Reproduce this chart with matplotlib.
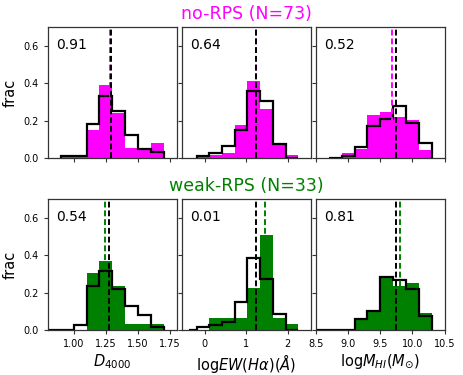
import numpy as np
import matplotlib
matplotlib.use("Agg")
import matplotlib.pyplot as plt

# ---------------- data ----------------
d4000_edges_top = [0.9, 1.0, 1.1, 1.2, 1.3, 1.4, 1.5, 1.6, 1.7]
d4000_edges_bot = [0.8, 0.9, 1.0, 1.1, 1.2, 1.3, 1.4, 1.5, 1.6, 1.7]
ew_edges_top = [-0.19, 0.11, 0.42, 0.73, 1.03, 1.34, 1.65, 1.95, 2.26]
ew_edges_bot = [-0.37, -0.19, 0.11, 0.42, 0.73, 1.03, 1.34, 1.65, 1.95, 2.26]
hi_edges_top = [8.7, 8.9, 9.1, 9.3, 9.5, 9.7, 9.9, 10.1, 10.3]
hi_edges_bot = [8.5, 8.7, 8.9, 9.1, 9.3, 9.5, 9.7, 9.9, 10.1, 10.3]

# no-RPS (magenta) vs comparison (black)
norps_d4000 = [0.014, 0.014, 0.151, 0.393, 0.239, 0.057, 0.057, 0.084]
ref1_d4000 = [0.014, 0.014, 0.182, 0.330, 0.254, 0.125, 0.050, 0.032]
norps_ew = [0.014, 0.018, 0.030, 0.180, 0.413, 0.265, 0.075, 0.016]
ref1_ew = [0.0125, 0.030, 0.066, 0.152, 0.357, 0.307, 0.075, 0.0]
norps_hi = [0.0, 0.029, 0.050, 0.232, 0.245, 0.220, 0.205, 0.043]
ref1_hi = [0.004, 0.0125, 0.058, 0.170, 0.209, 0.277, 0.188, 0.082]

# weak-RPS (green) vs comparison (black)
weak_d4000 = [0.0, 0.0, 0.0, 0.303, 0.369, 0.236, 0.034, 0.034, 0.034]
ref2_d4000 = [0.0, 0.0, 0.027, 0.236, 0.316, 0.218, 0.129, 0.080, 0.018]
weak_ew = [0.0, 0.0, 0.064, 0.064, 0.064, 0.223, 0.507, 0.066, 0.034]
ref2_ew = [0.0, 0.018, 0.027, 0.045, 0.150, 0.388, 0.274, 0.089, 0.0]
weak_hi = [0.0, 0.0, 0.0, 0.061, 0.096, 0.284, 0.236, 0.254, 0.093]
ref2_hi = [0.0, 0.0, 0.0, 0.0625, 0.102, 0.282, 0.268, 0.220, 0.075]

# medians (dashed lines)
norps_med = [1.285, 1.23, 9.69]
ref1_med = [1.293, 1.232, 9.74]
weak_med = [1.243, 1.45, 9.80]
ref2_med = [1.274, 1.24, 9.75]

# KS p-values
pvals_top = ["0.91", "0.64", "0.52"]
pvals_bot = ["0.54", "0.01", "0.81"]

xlabels = [r"$D_{4000}$", r"log$EW(H\alpha)(\AA)$", r"log$M_{HI}(M_{\odot})$"]
xlims = [(0.8, 1.8), (-0.55, 2.55), (8.5, 10.5)]
xticks = [[1.0, 1.25, 1.5, 1.75], [0, 1, 2], [8.5, 9.0, 9.5, 10.0, 10.5]]
xticklabels = [["1.00", "1.25", "1.50", "1.75"], ["0", "1", "2"],
               ["8.5", "9.0", "9.5", "10.0", "10.5"]]
yticks = [0.0, 0.2, 0.4, 0.6]

title_top = "no-RPS (N=73)"
title_bot = "weak-RPS (N=33)"

# ---------------- figure ----------------
W, H = 463, 375
fig = plt.figure(figsize=(W / 100, H / 100), dpi=100)

lefts = [48, 182, 316]
width = 128.5
row_tops = [27, 199]
height = 131.3

top_sets = [
    (d4000_edges_top, norps_d4000, ref1_d4000),
    (ew_edges_top, norps_ew, ref1_ew),
    (hi_edges_top, norps_hi, ref1_hi),
]
bot_sets = [
    (d4000_edges_bot, weak_d4000, ref2_d4000),
    (ew_edges_bot, weak_ew, ref2_ew),
    (hi_edges_bot, weak_hi, ref2_hi),
]

rows = [
    (top_sets, "#ff00ff", norps_med, ref1_med, pvals_top),
    (bot_sets, "green", weak_med, ref2_med, pvals_bot),
]

for r, (sets, col, med_c, med_k, pv) in enumerate(rows):
    for c in range(3):
        x0 = lefts[c] / W
        y0 = 1 - (row_tops[r] + height) / H
        ax = fig.add_axes([x0, y0, width / W, height / H])
        edges, filled, outline = sets[c]
        ax.stairs(filled, edges, fill=True, color=col, lw=0)
        ax.stairs(outline, edges, fill=False, color="black", lw=1.6, baseline=0)
        ax.axvline(med_c[c], color=col, ls="--", lw=1.4, dashes=(3, 1.5))
        ax.axvline(med_k[c], color="black", ls="--", lw=1.4, dashes=(3, 1.5))
        ax.set_xlim(*xlims[c])
        ax.set_ylim(0, 0.7)
        ax.set_xticks(xticks[c])
        ax.set_yticks(yticks)
        ax.tick_params(labelsize=7, length=3, width=0.8, color="#333333")
        for s in ax.spines.values():
            s.set_color("#333333")
            s.set_linewidth(0.9)
        if r == 1:
            ax.set_xticklabels(xticklabels[c])
            ax.set_xlabel(xlabels[c], fontsize=10.5, labelpad=2)
        else:
            ax.set_xticklabels([])
        if c == 0:
            ax.set_ylabel("frac", fontsize=10.5, labelpad=4)
        else:
            ax.set_yticklabels([])
        ax.text(0.06, 0.86, pv[c], transform=ax.transAxes, fontsize=10,
                ha="left", va="center")

fig.text(246 / W, 1 - 14 / H, title_top, color="#ff00ff", fontsize=12.5,
         ha="center", va="center")
fig.text(246 / W, 1 - 186 / H, title_bot, color="green", fontsize=12.5,
         ha="center", va="center")

fig.savefig("out.png", dpi=100)
